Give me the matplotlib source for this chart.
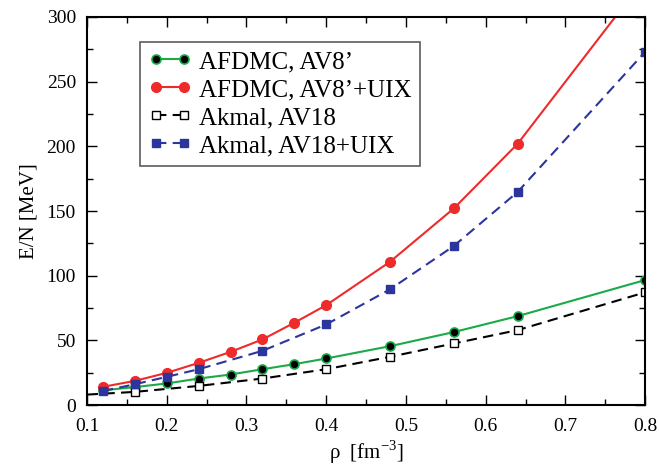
import matplotlib
matplotlib.use("Agg")
import matplotlib.pyplot as plt
from matplotlib.ticker import MultipleLocator

plt.rcParams['font.family'] = ['Liberation Serif', 'DejaVu Serif']
plt.rcParams['mathtext.fontset'] = 'custom'
plt.rcParams['mathtext.rm'] = 'Liberation Serif'

# AFDMC data
x_afdmc = [0.12, 0.16, 0.20, 0.24, 0.28, 0.32, 0.36, 0.40, 0.48, 0.56, 0.64, 0.80]
e_av8 = [11.5, 14.0, 16.8, 20.6, 23.7, 27.8, 31.7, 36.1, 45.6, 56.5, 68.8, 96.7]
e_av8_uix = [14.2, 18.8, 25.0, 32.7, 41.2, 50.8, 63.7, 77.3, 110.8, 152.0, 201.9, 330.0]

# Akmal data
x_akmal = [0.08, 0.16, 0.24, 0.32, 0.40, 0.48, 0.56, 0.64, 0.80]
e_av18 = [7.5, 10.3, 14.9, 20.6, 27.8, 37.4, 47.7, 58.0, 87.2]
x_akmal_uix = [0.12, 0.16, 0.20, 0.24, 0.32, 0.40, 0.48, 0.56, 0.64, 0.80]
e_av18_uix = [11.0, 16.2, 21.9, 27.8, 42.0, 62.4, 89.5, 123.0, 164.7, 273.0]

labels = ["AFDMC, AV8\u2019", "AFDMC, AV8\u2019+UIX", "Akmal, AV18", "Akmal, AV18+UIX"]

fig = plt.figure(figsize=(6.59, 4.69), dpi=100)
ax = fig.add_axes([0.132, 0.136, 0.847, 0.828])

green = '#1aaa48'
red = '#ee2a2a'
blue = '#2b359c'

ax.plot(x_afdmc, e_av8, '-', color=green, lw=1.5, marker='o', ms=6.5,
        mfc='black', mec=green, mew=1.2, label=labels[0])
ax.plot(x_afdmc, e_av8_uix, '-', color=red, lw=1.5, marker='o', ms=7,
        mfc=red, mec=red, label=labels[1])
ax.plot(x_akmal, e_av18, '--', color='black', lw=1.5, dashes=(5, 3), marker='s', ms=5.5,
        mfc='white', mec='black', mew=1.0, label=labels[2])
ax.plot(x_akmal_uix, e_av18_uix, '--', color=blue, lw=1.5, dashes=(5, 3), marker='s', ms=6,
        mfc=blue, mec=blue, label=labels[3])

ax.set_xlim(0.1, 0.8)
ax.set_ylim(0, 300)
ax.xaxis.set_major_locator(MultipleLocator(0.1))
ax.xaxis.set_minor_locator(MultipleLocator(0.05))
ax.yaxis.set_major_locator(MultipleLocator(50))
ax.yaxis.set_minor_locator(MultipleLocator(25))
ax.tick_params(which='both', direction='in', top=True, right=True, labelsize=14, width=1.0)
ax.tick_params(which='major', length=7)
ax.tick_params(which='minor', length=4)
ax.tick_params(axis='x', pad=9)
ax.tick_params(axis='y', pad=8)
for s in ax.spines.values():
    s.set_linewidth(1.5)

ax.set_xlabel("\u03c1  [fm$^{\\mathrm{-3}}$]", fontsize=15, labelpad=3)
ax.set_ylabel("E/N [MeV]", fontsize=15, labelpad=6)

leg = ax.legend(loc='upper left', bbox_to_anchor=(0.095, 0.936), borderaxespad=0,
                fontsize=18, handlelength=1.7, handletextpad=0.3, labelspacing=0.22,
                numpoints=2, fancybox=False, shadow=False, frameon=True, borderpad=0.35)
leg.get_frame().set_edgecolor('#333333')
leg.get_frame().set_linewidth(1.2)

fig.savefig("out.png", dpi=100)
